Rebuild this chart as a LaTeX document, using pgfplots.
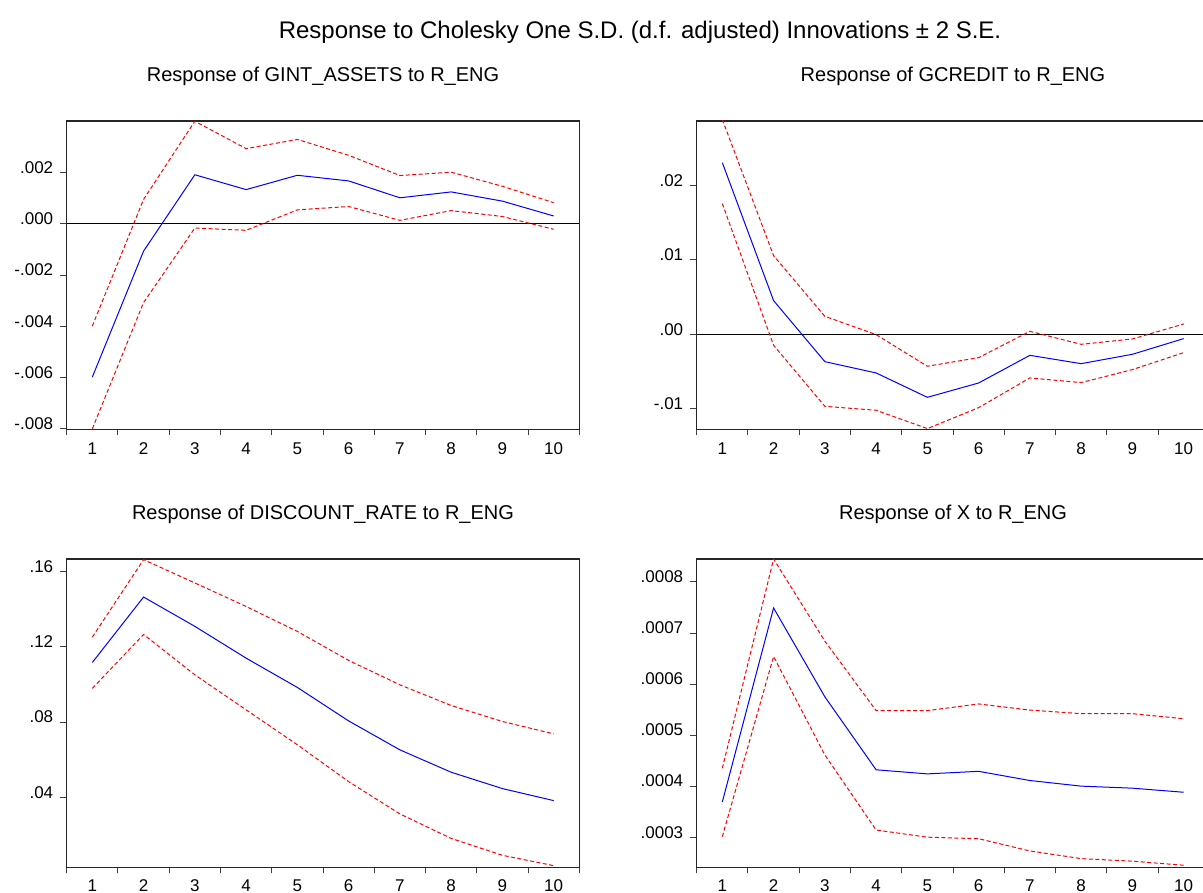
\documentclass[border=0pt]{standalone}
\usepackage{fontspec}
\setmainfont{Liberation Sans}
\usepackage{pgfplots}
\pgfplotsset{compat=1.18}
\pgfplotsset{
  ev/.style={
    scale only axis, width=512.6pt, height=308.3pt,
    xmin=0.5, xmax=10.5,
    scaled y ticks=false,
    xtick={1,2,3,4,5,6,7,8,9,10}, xticklabels={1,2,3,4,5,6,7,8,9,10},
    minor xtick={0.5,1.5,2.5,3.5,4.5,5.5,6.5,7.5,8.5,9.5,10.5},
    major x tick style={draw=none},
    tick align=outside, xtick pos=left, ytick pos=left,
    major tick length=7pt, minor tick length=6pt,
    tick style={black!75, line width=1pt},
    axis line style={black!85, line width=1.4pt},
    tick label style={font=\fontsize{17}{17}\selectfont},
    yticklabel style={yshift=5pt, xshift=-3pt},
    xticklabel style={yshift=-3pt},
    title style={font=\fontsize{20}{20}\selectfont, anchor=center, at={(0.5,1)}, yshift=39pt},
  },
  lowrow/.style={xticklabel style={yshift=1pt}},
  mid/.style={color={rgb,255:red,0;green,0;blue,255}, line width=1pt},
  band/.style={color={rgb,255:red,255;green,0;blue,0}, line width=1pt, dash pattern=on 4pt off 2.5pt},
  zero/.style={black, line width=1pt},
}
\begin{document}
\begin{tikzpicture}[x=1pt,y=1pt]
\path[use as bounding box] (0,0) rectangle (1203,893);
\node[font=\fontsize{24}{24}\selectfont] at (640,861) {Response to Cholesky One S.D. (d.f. adjusted) Innovations ± 2 S.E.};

% Panel 1
\begin{axis}[ev, at={(66.7pt,463.7pt)}, anchor=south west,
  ymin=-0.00802, ymax=0.00402,
  ytick={-0.008,-0.006,-0.004,-0.002,0,0.002},
  yticklabels={-.008,-.006,-.004,-.002,.000,.002},
  title={Response of GINT\_ASSETS to R\_ENG}]
\addplot[zero] coordinates {(0.5,0) (10.5,0)};
\addplot[band] coordinates {(1,-0.00399)(2,0.00096)(3,0.00401)(4,0.00294)(5,0.0033)(6,0.00268)(7,0.00189)(8,0.00202)(9,0.00147)(10,0.00083)};
\addplot[band] coordinates {(1,-0.0080)(2,-0.00307)(3,-0.00016)(4,-0.00025)(5,0.00055)(6,0.00068)(7,0.00014)(8,0.00052)(9,0.00029)(10,-0.00021)};
\addplot[mid] coordinates {(1,-0.00598)(2,-0.00106)(3,0.00192)(4,0.00134)(5,0.0019)(6,0.00168)(7,0.00102)(8,0.00125)(9,0.00089)(10,0.00031)};
\end{axis}

% Panel 2
\begin{axis}[ev, at={(696.7pt,463.7pt)}, anchor=south west,
  ymin=-0.01278, ymax=0.0287,
  ytick={-0.01,0,0.01,0.02},
  yticklabels={-.01,.00,.01,.02},
  title={Response of GCREDIT to R\_ENG}]
\addplot[zero] coordinates {(0.5,0) (10.5,0)};
\addplot[band] coordinates {(1,0.0289)(2,0.01058)(3,0.00242)(4,-0.00004)(5,-0.0043)(6,-0.00314)(7,0.0004)(8,-0.00135)(9,-0.00063)(10,0.00139)};
\addplot[band] coordinates {(1,0.01758)(2,-0.00148)(3,-0.00969)(4,-0.01022)(5,-0.01269)(6,-0.00987)(7,-0.00587)(8,-0.0065)(9,-0.00475)(10,-0.00247)};
\addplot[mid] coordinates {(1,0.02309)(2,0.00453)(3,-0.00368)(4,-0.0052)(5,-0.00848)(6,-0.00655)(7,-0.00283)(8,-0.00395)(9,-0.00269)(10,-0.00058)};
\end{axis}

% Panel 3
\begin{axis}[ev, lowrow, at={(66.7pt,25.7pt)}, anchor=south west,
  ymin=0.00272, ymax=0.16675,
  ytick={0.04,0.08,0.12,0.16},
  yticklabels={.04,.08,.12,.16},
  title={Response of DISCOUNT\_RATE to R\_ENG}]
\addplot[band] coordinates {(1,0.1252)(2,0.1664)(3,0.154)(4,0.1415)(5,0.1282)(6,0.1128)(7,0.0998)(8,0.0888)(9,0.0803)(10,0.0737)};
\addplot[band] coordinates {(1,0.0979)(2,0.1266)(3,0.1051)(4,0.0865)(5,0.0679)(6,0.0483)(7,0.0311)(8,0.0181)(9,0.0091)(10,0.0036)};
\addplot[mid] coordinates {(1,0.1117)(2,0.1465)(3,0.1309)(4,0.114)(5,0.0984)(6,0.0806)(7,0.0652)(8,0.0533)(9,0.0446)(10,0.0382)};
\end{axis}

% Panel 4
\begin{axis}[ev, lowrow, at={(696.7pt,25.7pt)}, anchor=south west,
  ymin=0.000241, ymax=0.000845,
  ytick={0.0003,0.0004,0.0005,0.0006,0.0007,0.0008},
  yticklabels={.0003,.0004,.0005,.0006,.0007,.0008},
  title={Response of X to R\_ENG}]
\addplot[band] coordinates {(1,0.000435)(2,0.000845)(3,0.000684)(4,0.000548)(5,0.000548)(6,0.000561)(7,0.000549)(8,0.000542)(9,0.000542)(10,0.000532)};
\addplot[band] coordinates {(1,0.000301)(2,0.000654)(3,0.000461)(4,0.000314)(5,0.0003)(6,0.000297)(7,0.000273)(8,0.000258)(9,0.000253)(10,0.000245)};
\addplot[mid] coordinates {(1,0.000369)(2,0.000749)(3,0.000575)(4,0.000432)(5,0.000424)(6,0.000429)(7,0.000411)(8,0.0004)(9,0.000396)(10,0.000388)};
\end{axis}
\end{tikzpicture}
\end{document}
